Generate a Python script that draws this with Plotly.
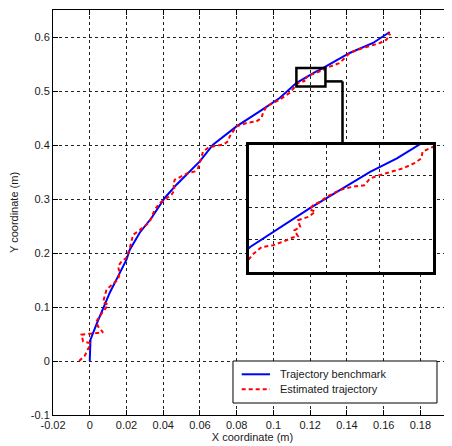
import plotly.graph_objects as go

# ---------------- data ----------------
bench_x = [0.0, 0.0004, 0.0036, 0.0072, 0.0109, 0.0154, 0.0200, 0.0218, 0.0272, 0.0336,
           0.0408, 0.0472, 0.0544, 0.0599, 0.0671, 0.0799, 0.0925, 0.1034,
           0.1126, 0.1152, 0.1177, 0.1203, 0.1229, 0.1252, 0.1270,
           0.1415, 0.1542, 0.1633]
bench_y = [0.0, 0.0394, 0.0672, 0.0950, 0.1265, 0.1567, 0.1876, 0.2061, 0.2376, 0.2648,
           0.3019, 0.3265, 0.3511, 0.3696, 0.4006, 0.4344, 0.4622, 0.4870,
           0.5152, 0.5206, 0.5256, 0.5305, 0.5354, 0.5390, 0.5426,
           0.5704, 0.5889, 0.6093]

est_x = [-0.0058, -0.0027, -0.0004, 0.0, -0.0036, -0.0045, 0.0, 0.0072, 0.0045, 0.0036,
         0.0054, 0.0082, 0.0100, 0.0072, 0.0082, 0.0091, 0.0127, 0.0154, 0.0163, 0.0154,
         0.0173, 0.0200, 0.0218, 0.0227, 0.0236, 0.0263, 0.0290, 0.0309, 0.0327, 0.0345,
         0.0354, 0.0381, 0.0408, 0.0445, 0.0463, 0.0454, 0.0463, 0.0499, 0.0535, 0.0572,
         0.0590, 0.0599, 0.0608, 0.0617, 0.0644, 0.0671, 0.0726, 0.0753, 0.0762, 0.0780,
         0.0799, 0.0853, 0.0907, 0.0935, 0.0943, 0.0962, 0.0998, 0.1034, 0.1089,
         0.1128, 0.1136, 0.1146, 0.1157, 0.1162, 0.1167, 0.1164, 0.1169, 0.1167, 0.1176,
         0.1182, 0.1177, 0.1180, 0.1186, 0.1192, 0.1203, 0.1214, 0.1224, 0.1229, 0.1237,
         0.1246, 0.1257, 0.1267, 0.1273, 0.1274, 0.1280,
         0.1361, 0.1397, 0.1415, 0.1470, 0.1524, 0.1579, 0.1615, 0.1633, 0.1624]
est_y = [0.0, 0.0098, 0.0259, 0.0333, 0.0363, 0.0487, 0.0506, 0.0530, 0.0641, 0.0733,
         0.0826, 0.0950, 0.1043, 0.1085, 0.1196, 0.1320, 0.1431, 0.1506, 0.1630, 0.1752,
         0.1844, 0.1913, 0.2093, 0.2215, 0.2339, 0.2400, 0.2463, 0.2524, 0.2585, 0.2709,
         0.2802, 0.2926, 0.2987, 0.3080, 0.3172, 0.3265, 0.3357, 0.3419, 0.3481, 0.3511,
         0.3574, 0.3672, 0.3759, 0.3881, 0.3944, 0.3974, 0.4006, 0.4067, 0.4159, 0.4252,
         0.4344, 0.4407, 0.4437, 0.4500, 0.4593, 0.4715, 0.4778, 0.4839, 0.4969,
         0.5132, 0.5152, 0.5157, 0.5170, 0.5177, 0.5181, 0.5197, 0.5206, 0.5224, 0.5233,
         0.5247, 0.5253, 0.5264, 0.5274, 0.5287, 0.5305, 0.5314, 0.5318, 0.5336, 0.5345,
         0.5354, 0.5363, 0.5377, 0.5390, 0.5408, 0.5417,
         0.5519, 0.5641, 0.5704, 0.5778, 0.5839, 0.5889, 0.5950, 0.6043, 0.6074]

x_tickvals = [-0.02, 0, 0.02, 0.04, 0.06, 0.08, 0.1, 0.12, 0.14, 0.16, 0.18]
x_ticktext = ["-0.02", "0", "0.02", "0.04", "0.06", "0.08", "0.1", "0.12", "0.14", "0.16", "0.18"]
y_tickvals = [-0.1, 0, 0.1, 0.2, 0.3, 0.4, 0.5, 0.6]
y_ticktext = ["-0.1", "0", "0.1", "0.2", "0.3", "0.4", "0.5", "0.6"]

series_names = ["Trajectory benchmark", "Estimated trajectory"]
series_colors = ["#0000ff", "#ff0000"]
series_dash = ["solid", "4px,3px"]

# zoomed window shown in the inset
zoom_x = [0.1125, 0.1283]
zoom_y = [0.5085, 0.5426]

# ---------------- layout constants ----------------
X_RANGE = [-0.02, 0.1972]
Y_RANGE = [-0.1, 0.65]
INSET_XDOM = [0.4912, 0.9524]
INSET_YDOM = [0.3531, 0.6667]
FONT = "Liberation Sans, Arial, sans-serif"
TXT = "#1a1a1a"
GRID = dict(showgrid=True, gridcolor="#222", gridwidth=1, griddash="3px,3px")

inset_xticks = [zoom_x[0] + f * (zoom_x[1] - zoom_x[0]) for f in (0.132, 0.421, 0.711)]
inset_yticks = [zoom_y[0] + f * (zoom_y[1] - zoom_y[0]) for f in (0.258, 0.505, 0.758)]

fig = go.Figure()
for xa, ya in (("x", "y"), ("x2", "y2")):
    fig.add_trace(go.Scatter(x=bench_x, y=bench_y, mode="lines", name=series_names[0],
                             showlegend=False,
                             line=dict(color=series_colors[0], width=2, dash=series_dash[0]),
                             xaxis=xa, yaxis=ya))
    fig.add_trace(go.Scatter(x=est_x, y=est_y, mode="lines", name=series_names[1],
                             showlegend=False,
                             line=dict(color=series_colors[1], width=2, dash=series_dash[1]),
                             xaxis=xa, yaxis=ya))

# connector from zoom box to inset
conn_x = 0.1376
conn_y = 0.5178
inset_top_y = Y_RANGE[0] + INSET_YDOM[1] * (Y_RANGE[1] - Y_RANGE[0])

shapes = [
    # legend frame
    dict(type="rect", xref="paper", yref="paper", x0=0.4511, x1=0.9624, y0=0.0296, y1=0.1333,
         fillcolor="white", line=dict(color="black", width=1), layer="above"),
    dict(type="rect", xref="x", yref="y", x0=zoom_x[0], x1=zoom_x[1], y0=zoom_y[0], y1=zoom_y[1],
         line=dict(color="black", width=2.5), layer="above"),
    dict(type="line", xref="x", yref="y", x0=zoom_x[1], x1=conn_x, y0=conn_y, y1=conn_y,
         line=dict(color="black", width=2.5), layer="above"),
    dict(type="line", xref="x", yref="y", x0=conn_x, x1=conn_x, y0=conn_y, y1=inset_top_y,
         line=dict(color="black", width=2.5), layer="above"),
]
annotations = []
legend_rows = [0.1005, 0.0635]
for i, name in enumerate(series_names):
    shapes.append(dict(type="line", xref="paper", yref="paper", x0=0.4729, x1=0.5439,
                       y0=legend_rows[i], y1=legend_rows[i], layer="above",
                       line=dict(color=series_colors[i], width=2, dash=series_dash[i])))
    annotations.append(dict(text=name, xref="paper", yref="paper", x=0.5647, y=legend_rows[i],
                            xanchor="left", yanchor="middle", showarrow=False,
                            font=dict(family=FONT, size=11, color=TXT)))

fig.update_layout(
    width=444, height=438,
    margin=dict(l=45, r=0, t=2, b=31),
    paper_bgcolor="white", plot_bgcolor="white",
    font=dict(family=FONT, size=11, color=TXT),
    showlegend=False,
    xaxis=dict(range=X_RANGE, tickvals=x_tickvals, ticktext=x_ticktext,
               showline=True, linecolor="black", linewidth=1, mirror="ticks",
               ticks="inside", ticklen=5, tickcolor="black", zeroline=False,
               title=dict(text="X coordinate (m)", standoff=3,
                          font=dict(family=FONT, size=11, color=TXT)),
               **GRID),
    yaxis=dict(range=Y_RANGE, tickvals=y_tickvals, ticktext=y_ticktext,
               showline=True, linecolor="black", linewidth=1, mirror="ticks",
               ticks="inside", ticklen=5, tickcolor="black", zeroline=False,
               title=dict(text="Y coordinate (m)", standoff=11,
                          font=dict(family=FONT, size=11, color=TXT)),
               **GRID),
    xaxis2=dict(domain=INSET_XDOM, anchor="y2", range=zoom_x, tickvals=inset_xticks,
                showticklabels=False, ticks="", showline=True, linecolor="black",
                linewidth=3, mirror=True, zeroline=False, **GRID),
    yaxis2=dict(domain=INSET_YDOM, anchor="x2", range=zoom_y, tickvals=inset_yticks,
                showticklabels=False, ticks="", showline=True, linecolor="black",
                linewidth=3, mirror=True, zeroline=False, **GRID),
    shapes=shapes,
    annotations=annotations,
)

fig.write_html("out.html")
